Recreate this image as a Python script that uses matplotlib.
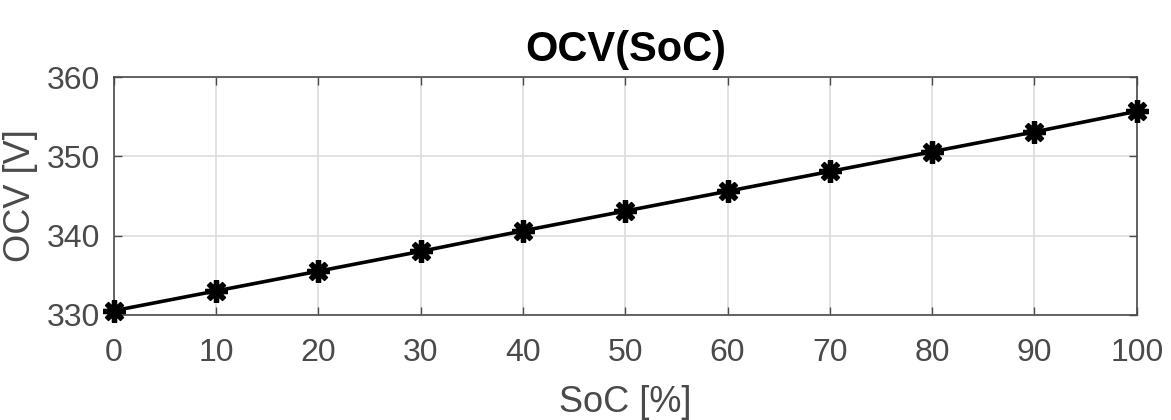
# OCV as a function of SoC, MATLAB-style look

import matplotlib.pyplot as plt

plt.rcParams["font.family"] = ["Liberation Sans", "DejaVu Sans"]

# DATA

soc = [0, 10, 20, 30, 40, 50, 60, 70, 80, 90, 100]
ocv = [330.5, 333.0, 335.5, 338.0, 340.6, 343.1, 345.6, 348.1, 350.6, 353.1, 355.7]

x_ticks = [0, 10, 20, 30, 40, 50, 60, 70, 80, 90, 100]
y_ticks = [330, 340, 350, 360]

# PLOT

fig = plt.figure(figsize=(11.71, 4.2), dpi=100)
ax = fig.add_axes([0.0971, 0.2507, 0.8737, 0.5653])

ax.plot(
    soc,
    ocv,
    color="black",
    linewidth=2.6,
    marker=(8, 2, 0),
    markersize=16,
    markeredgewidth=3.8,
    clip_on=False,
    zorder=3
)

ax.set_xlim(0, 100)
ax.set_ylim(330, 360)
ax.set_xticks(x_ticks)
ax.set_yticks(y_ticks)

ax.grid(True, color="#dcdcdc", linewidth=1.2)
ax.set_axisbelow(True)

ax.tick_params(
    direction="in",
    top=True,
    right=True,
    length=6,
    width=1,
    colors="#4a4a4a",
    labelsize=23
)
ax.tick_params(axis="x", pad=17)
ax.tick_params(axis="y", pad=10)

for spine in ax.spines.values():
    spine.set_color("#4a4a4a")
    spine.set_linewidth(1.2)

ax.set_title("OCV(SoC)", fontsize=30, fontweight="bold", pad=12)
ax.set_xlabel("SoC [%]", fontsize=26, color="#4a4a4a", labelpad=12)
ax.set_ylabel("OCV [V]", fontsize=26, color="#4a4a4a", labelpad=6)

plt.savefig("out.png", dpi=100)
